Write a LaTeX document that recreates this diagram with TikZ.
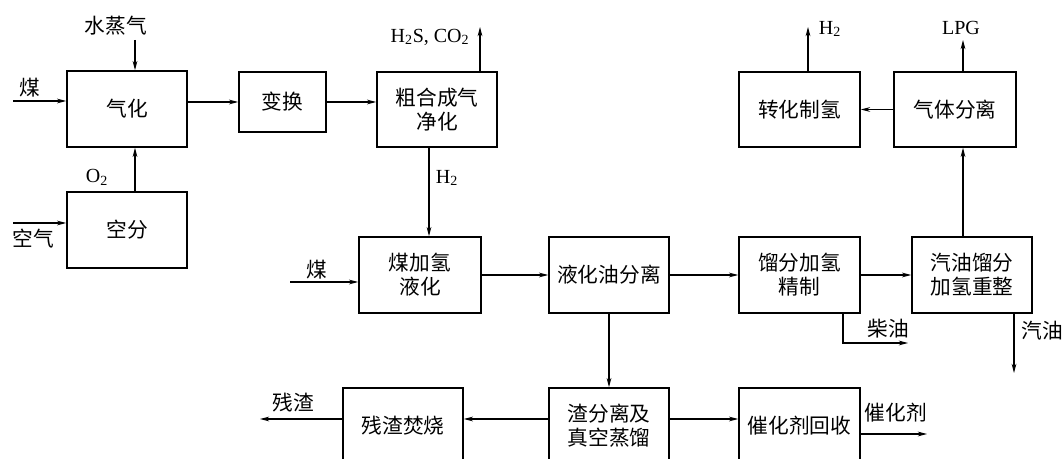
\documentclass[tikz,border=0pt]{standalone}
\usepackage{fontspec}
\setmainfont{Liberation Serif}
\newfontfamily\cjk{Noto Sans CJK SC}[Scale=0.97]
\usetikzlibrary{arrows.meta,calc}
\tikzset{
  proc/.style={draw, line width=1.2pt, rectangle, minimum width=#1, align=center, inner sep=0pt, font=\cjk\fontsize{16}{18}\selectfont},
  proc/.default=90pt,
  arr/.style={line width=0.85pt, -{Stealth[length=7pt,width=3.6pt]}},
  lab/.style={inner sep=0pt, font=\cjk\fontsize{16}{18}\selectfont},
  latin/.style={inner sep=0pt, font=\fontsize{15}{18}\selectfont}
}
\begin{document}
\begin{tikzpicture}[x=0.75pt,y=-0.75pt]
\useasboundingbox (0,0) rectangle (1064,459);
\clip (0,0) rectangle (1064,459);
% boxes
\node[proc=90pt, minimum height=57pt] (gas) at (127,109) {气化};
\node[proc=65.25pt, minimum height=45pt] (shift) at (282.5,102) {变换};
\node[proc=90pt, minimum height=56.25pt] (pur) at (437,109.5) {粗合成气\\净化};
\node[proc=90pt, minimum height=57pt] (asu) at (127,230) {空分};
\node[proc=91.5pt, minimum height=57pt] (liq) at (420,275) {煤加氢\\液化};
\node[proc=90pt, minimum height=57pt] (sep) at (609,275) {液化油分离};
\node[proc=90.75pt, minimum height=57pt] (hyd) at (799.5,275) {馏分加氢\\精制};
\node[proc=90pt, minimum height=57pt] (ref) at (972,275) {汽油馏分\\加氢重整};
\node[proc=90.75pt, minimum height=56.25pt] (conv) at (799.5,109.5) {转化制氢};
\node[proc=91.5pt, minimum height=56.25pt] (gsep) at (955,109.5) {气体分离};
\node[proc=90pt, minimum height=57pt] (burn) at (403,426) {残渣焚烧};
\node[proc=90pt, minimum height=57pt] (slag) at (609,426) {渣分离及\\真空蒸馏};
\node[proc=90.75pt, minimum height=57pt] (cat) at (799.5,426) {催化剂回收};
% free ends
\coordinate (coalA) at (13,101);
\coordinate (steam) at (135,40);
\coordinate (airA) at (13,223);
\coordinate (x135) at (135,0);
\coordinate (x480) at (480,0);
\coordinate (x429) at (429,0);
\coordinate (x808) at (808,0);
\coordinate (x963) at (963,0);
\coordinate (x843) at (843,0);
\coordinate (x1014) at (1014,0);
\coordinate (gasout) at (480,27);
\coordinate (h2out) at (808,27);
\coordinate (lpgout) at (963,40);
\coordinate (coalB) at (290,282);
\coordinate (dieselc) at (843,343);
\coordinate (dieselout) at (908,343);
\coordinate (petrolout) at (1014,373);
\coordinate (resout) at (260,419);
\coordinate (catout) at (927,434);
% labels
\node[lab] (lcoal) at (30,88) {煤};
\node[lab] (lsteam) at (116,26) {水蒸气};
\node[latin] (lo2) at (97,177) {O\textsubscript{2}};
\node[lab] (lair) at (33,239) {空气};
\node[latin] (lh2s) at (430,37) {H\textsubscript{2}S, CO\textsubscript{2}};
\node[latin] (lh2a) at (447,178) {H\textsubscript{2}};
\node[latin] (lh2b) at (830,29) {H\textsubscript{2}};
\node[latin] (llpg) at (961,28) {LPG};
\node[lab] (lcoal2) at (317,270) {煤};
\node[lab] (ldiesel) at (888,329) {柴油};
\node[lab] (lpetrol) at (1042,331) {汽油};
\node[lab] (lres) at (293,403) {残渣};
\node[lab] (lcat) at (896,413) {催化剂};
% connectors
\draw[arr] (coalA) -- (gas.west |- coalA);
\draw[arr] (steam) -- (gas.north -| steam);
\draw[arr] (asu.north -| x135) -- (gas.south -| x135);
\draw[arr] (airA) -- (asu.west |- airA);
\draw[arr] (gas.east |- shift.west) -- (shift.west);
\draw[arr] (shift.east) -- (pur.west |- shift.east);
\draw[arr] (pur.north -| x480) -- (gasout);
\draw[arr] (pur.south -| x429) -- (liq.north -| x429);
\draw[arr] (coalB) -- (liq.west |- coalB);
\draw[arr] (liq.east) -- (sep.west);
\draw[arr] (sep.east) -- (hyd.west);
\draw[arr] (hyd.east) -- (ref.west);
\draw[arr] (ref.north -| x963) -- (gsep.south -| x963);
\draw[arr] (gsep.north -| x963) -- (lpgout);
\draw[arr] (gsep.west) -- (conv.east |- gsep.west);
\draw[arr] (conv.north -| x808) -- (h2out);
\draw[arr] (hyd.south -| x843) -- (dieselc) -- (dieselout);
\draw[arr] (ref.south -| x1014) -- (petrolout);
\draw[arr] (sep.south) -- (slag.north);
\draw[arr] (slag.west |- 0,419) -- (burn.east |- 0,419);
\draw[arr] (burn.west |- 0,419) -- (resout);
\draw[arr] (slag.east |- 0,419) -- (cat.west |- 0,419);
\draw[arr] (cat.east |- catout) -- (catout);
\end{tikzpicture}
\end{document}
